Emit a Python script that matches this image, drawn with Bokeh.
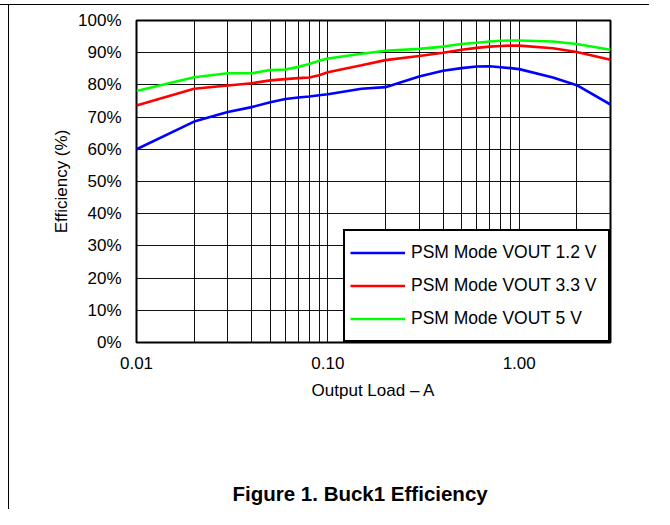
from bokeh.plotting import figure
from bokeh.models import (Range1d, FixedTicker, Legend, LegendItem, Title, LogAxis,
                          NumeralTickFormatter, PrintfTickFormatter)
from bokeh.embed import file_html
from bokeh.resources import INLINE

# ---- data ----
load_a = [0.01, 0.02, 0.03, 0.04, 0.05, 0.06, 0.07, 0.08, 0.09, 0.1, 0.15, 0.2,
          0.3, 0.4, 0.5, 0.6, 0.7, 0.8, 0.9, 1.0, 1.5, 2.0, 3.0]
eff_1v2 = [60.0, 68.6, 71.6, 73.1, 74.6, 75.6, 76.1, 76.4, 76.8, 77.1, 78.8, 79.3,
           82.6, 84.4, 85.2, 85.7, 85.8, 85.5, 85.2, 84.9, 82.3, 79.9, 73.9]
eff_3v3 = [73.6, 78.8, 79.8, 80.5, 81.4, 81.8, 82.1, 82.3, 83.0, 83.9, 86.1, 87.7,
           89.0, 90.0, 90.9, 91.5, 91.9, 92.1, 92.2, 92.2, 91.4, 90.2, 87.8]
eff_5v0 = [78.1, 82.4, 83.6, 83.6, 84.6, 84.8, 85.6, 86.5, 87.5, 88.2, 89.7, 90.6,
           91.2, 91.9, 92.7, 93.1, 93.5, 93.7, 93.8, 93.8, 93.5, 92.7, 90.9]
series_names = ["PSM Mode VOUT 1.2 V", "PSM Mode VOUT 3.3 V", "PSM Mode VOUT 5 V"]
series_colors = ["#0000FF", "#FF0000", "#00FF00"]
caption_text = "Figure 1. Buck1 Efficiency"

x_major_ticks = [0.01, 0.1, 1.0]
x_minor_ticks = [0.02, 0.03, 0.04, 0.05, 0.06, 0.07, 0.08, 0.09,
                 0.2, 0.3, 0.4, 0.5, 0.6, 0.7, 0.8, 0.9, 2.0, 3.0]
y_ticks = [0, 10, 20, 30, 40, 50, 60, 70, 80, 90, 100]

FONT = "Liberation Sans"
FS = "17px"

p = figure(width=649, height=509, x_axis_type="log",
           x_range=Range1d(0.01, 3.0), y_range=Range1d(0, 100),
           output_backend="svg", toolbar_location=None,
           min_border_left=136, min_border_right=39,
           min_border_top=20, min_border_bottom=167)

# thin frame lines at top and left of the page (document crop)
p.border_fill_alpha = 0.0
p.styles = {
    "background-color": "white",
    "background-image": "linear-gradient(#000,#000), linear-gradient(#000,#000)",
    "background-size": "100% 1.3px, 1.3px 100%",
    "background-position": "0px 4px, 8px 4px",
    "background-repeat": "no-repeat",
}

p.outline_line_color = "black"
p.outline_line_width = 2
p.outline_line_alpha = 1.0

xax = p.xaxis[0]
yax = p.yaxis[0]
xax.ticker = FixedTicker(ticks=x_major_ticks, minor_ticks=x_minor_ticks)
xax.formatter = NumeralTickFormatter(format="0.00")
yax.ticker = FixedTicker(ticks=y_ticks)
yax.formatter = PrintfTickFormatter(format="%d%%")
for ax in (xax, yax):
    ax.axis_line_color = None
    ax.major_tick_line_color = None
    ax.minor_tick_line_color = None
    ax.major_tick_out = 0
    ax.major_tick_in = 0
    ax.minor_tick_out = 0
    ax.minor_tick_in = 0
    ax.major_label_text_font = FONT
    ax.major_label_text_font_size = FS
    ax.major_label_text_color = "black"
    ax.axis_label_text_font = FONT
    ax.axis_label_text_font_size = FS
    ax.axis_label_text_font_style = "normal"
    ax.axis_label_text_color = "black"
xax.major_label_standoff = 14
yax.major_label_standoff = 15
xax.axis_label = "Output Load \u2013 A"
yax.axis_label = "Efficiency (%)"
xax.axis_label_standoff = 9
yax.axis_label_standoff = 4

# grid
p.xgrid.grid_line_color = "#111111"
p.xgrid.minor_grid_line_color = "#111111"
p.xgrid.grid_line_width = 1
p.xgrid.minor_grid_line_width = 1
p.ygrid.grid_line_color = "#111111"
p.ygrid.grid_line_width = 1

# lines
items = []
for ys, name, col in zip([eff_1v2, eff_3v3, eff_5v0], series_names, series_colors):
    r = p.line(load_a, ys, line_color=col, line_width=2.6)
    items.append(LegendItem(label=name, renderers=[r]))

legend = Legend(items=items, location="bottom_right", margin=0, padding=5,
                spacing=0, glyph_width=55, glyph_height=33, label_height=33,
                label_width=192, label_standoff=6,
                border_line_color="black", border_line_width=2, border_line_alpha=1.0,
                background_fill_color="white", background_fill_alpha=1.0,
                label_text_font=FONT, label_text_font_size="17.5px",
                label_text_color="black")
p.add_layout(legend)

# empty spacer below the x axis, then the figure caption
spacer = LogAxis(ticker=FixedTicker(ticks=[]), axis_line_color=None,
                 major_tick_line_color=None, minor_tick_line_color=None,
                 major_tick_out=0, major_tick_in=0, minor_tick_out=0,
                 minor_tick_in=0, major_label_standoff=0,
                 axis_label=" ", axis_label_standoff=73,
                 axis_label_text_font_size="1px")
p.add_layout(spacer, "below")

caption = Title(text=caption_text, align="left", offset=96,
                vertical_align="bottom", standoff=0,
                text_font=FONT, text_font_size="20.5px", text_font_style="bold",
                text_color="black")
p.add_layout(caption, "below")

open("out.html", "w").write(file_html(p, INLINE))
